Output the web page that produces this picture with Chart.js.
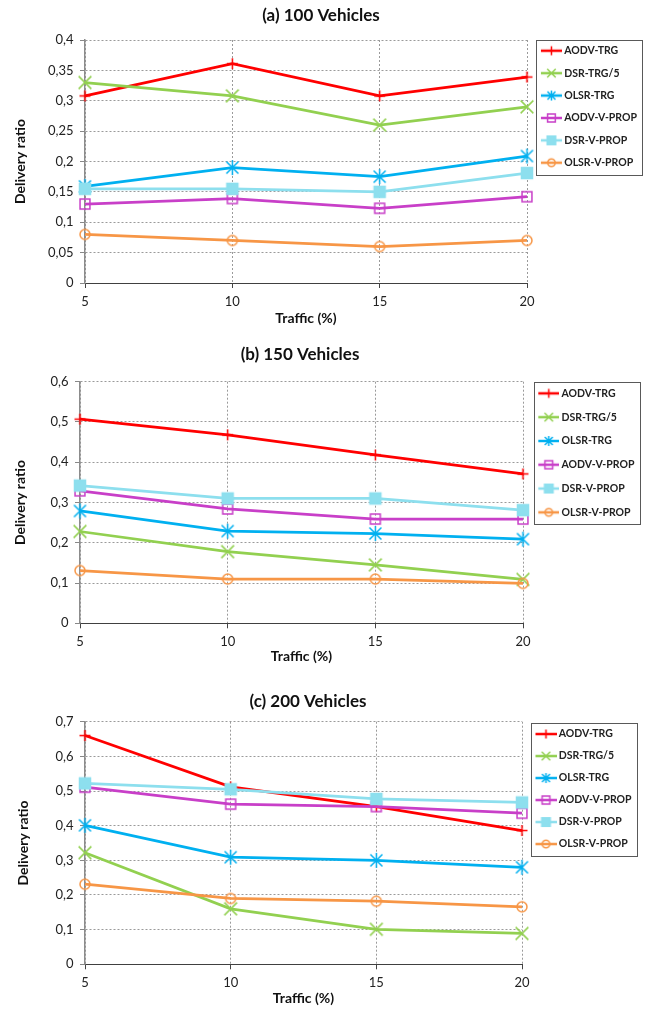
<!DOCTYPE html>
<html>
<head>
<meta charset="utf-8">
<script src="https://cdn.jsdelivr.net/npm/chart.js@4.4.1/dist/chart.umd.min.js"></script>
<style>
  body { margin: 0; background: #fff; }
  .box { position: absolute; left: 0; width: 649px; }
</style>
</head>
<body>
<div class="box" style="top:0;height:330px"><canvas id="chartA"></canvas></div>
<div class="box" style="top:330px;height:340px"><canvas id="chartB"></canvas></div>
<div class="box" style="top:670px;height:339px"><canvas id="chartC"></canvas></div>
<script>
const traffic = ['5', '10', '15', '20'];
const seriesNames = ['AODV-TRG', 'DSR-TRG/5', 'OLSR-TRG', 'AODV-V-PROP', 'DSR-V-PROP', 'OLSR-V-PROP'];

// (a) 100 vehicles
const aodvTrgA = [0.308, 0.361, 0.308, 0.339];
const dsrTrgA = [0.330, 0.308, 0.260, 0.290];
const olsrTrgA = [0.159, 0.190, 0.175, 0.209];
const aodvPropA = [0.130, 0.139, 0.123, 0.142];
const dsrPropA = [0.155, 0.155, 0.150, 0.181];
const olsrPropA = [0.080, 0.070, 0.060, 0.070];
const yTicksA = ['0', '0,05', '0,1', '0,15', '0,2', '0,25', '0,3', '0,35', '0,4'];

// (b) 150 vehicles
const aodvTrgB = [0.507, 0.468, 0.418, 0.371];
const dsrTrgB = [0.228, 0.178, 0.145, 0.109];
const olsrTrgB = [0.279, 0.229, 0.223, 0.209];
const aodvPropB = [0.329, 0.284, 0.259, 0.259];
const dsrPropB = [0.342, 0.310, 0.310, 0.281];
const olsrPropB = [0.131, 0.110, 0.110, 0.099];
const yTicksB = ['0', '0,1', '0,2', '0,3', '0,4', '0,5', '0,6'];

// (c) 200 vehicles
const aodvTrgC = [0.660, 0.512, 0.455, 0.386];
const dsrTrgC = [0.322, 0.160, 0.101, 0.089];
const olsrTrgC = [0.401, 0.309, 0.300, 0.280];
const aodvPropC = [0.511, 0.462, 0.455, 0.436];
const dsrPropC = [0.522, 0.505, 0.477, 0.467];
const olsrPropC = [0.231, 0.190, 0.182, 0.166];
const yTicksC = ['0', '0,1', '0,2', '0,3', '0,4', '0,5', '0,6', '0,7'];

Chart.defaults.font.family = 'Lato, sans-serif';
Chart.defaults.color = '#222';

const seriesStyles = [
  {color: '#ff0000', marker: 'cross', r: 5.5, lr: 4.5, fill: '#ff0000'},
  {color: '#92d050', marker: 'crossRot', r: 9, lr: 6, fill: '#92d050'},
  {color: '#00b0f0', marker: 'asterisk', r: 7.5, lr: 5, fill: '#00b0f0'},
  {color: '#c83fc8', marker: 'rect', r: 7, lr: 5.5, fill: 'rgba(255,255,255,0)'},
  {color: '#8ddfee', marker: 'rect', r: 7.8, lr: 6, fill: '#8ddfee'},
  {color: '#f79646', marker: 'circle', r: 5, lr: 3.8, fill: 'rgba(255,255,255,0)'}
];

function drawMarker(ctx, st, cx, cy, r) {
  ctx.save();
  ctx.strokeStyle = st.color;
  ctx.fillStyle = st.fill;
  ctx.lineWidth = 1.5;
  ctx.beginPath();
  if (st.marker === 'cross') {
    ctx.moveTo(cx - r, cy); ctx.lineTo(cx + r, cy);
    ctx.moveTo(cx, cy - r); ctx.lineTo(cx, cy + r);
  } else if (st.marker === 'crossRot' || st.marker === 'asterisk') {
    const d = r * (st.marker === 'asterisk' ? 0.8 : Math.SQRT1_2);
    ctx.moveTo(cx - d, cy - d); ctx.lineTo(cx + d, cy + d);
    ctx.moveTo(cx + d, cy - d); ctx.lineTo(cx - d, cy + d);
    if (st.marker === 'asterisk') { ctx.moveTo(cx, cy - r); ctx.lineTo(cx, cy + r); }
  } else if (st.marker === 'rect') {
    const h = r * Math.SQRT1_2;
    ctx.rect(cx - h, cy - h, 2 * h, 2 * h);
    ctx.fill();
  } else {
    ctx.arc(cx, cy, r, 0, Math.PI * 2);
    ctx.fill();
  }
  ctx.stroke();
  ctx.restore();
}

// marker images for the points
const pointImages = seriesStyles.map(st => {
  const size = Math.ceil(st.r * 2 + 4);
  const c = document.createElement('canvas');
  c.width = size; c.height = size;
  drawMarker(c.getContext('2d'), st, size / 2, size / 2, st.r);
  return c;
});

// legend icons: short line with marker in the middle
const legendIcons = seriesStyles.map(st => {
  const c = document.createElement('canvas');
  c.width = 26; c.height = 16;
  const g = c.getContext('2d');
  g.strokeStyle = st.color;
  g.lineWidth = 2.5;
  g.beginPath(); g.moveTo(5, 8); g.lineTo(26, 8); g.stroke();
  drawMarker(g, st, 15.5, 8, st.lr);
  return c;
});

const legendFrame = {
  id: 'legendFrame',
  afterDraw(chart) {
    const boxes = chart.legend.legendHitBoxes;
    if (!boxes || !boxes.length) return;
    const first = boxes[0], last = boxes[boxes.length - 1];
    const left = first.left - 2.5;
    const right = Math.max(...boxes.map(b => b.left + b.width)) + 5;
    const top = first.top + first.height / 2 - 11;
    const bottom = last.top + last.height / 2 + 12;
    const c = chart.ctx;
    c.save();
    c.strokeStyle = '#595959';
    c.lineWidth = 1;
    c.strokeRect(Math.round(left) + 0.5, Math.round(top) + 0.5, Math.round(right - left), Math.round(bottom - top));
    c.restore();
  }
};

function buildChart(id, titleText, values, yMax, yStep, yTickLabels, lay) {
  const datasets = values.map((vals, i) => ({
    label: seriesNames[i],
    data: vals,
    borderColor: seriesStyles[i].color,
    backgroundColor: seriesStyles[i].color,
    borderWidth: 2.75,
    pointStyle: pointImages[i],
    pointRadius: seriesStyles[i].r,
    pointHoverRadius: seriesStyles[i].r,
    tension: 0,
    clip: false,
    order: values.length - i
  }));

  const gridX = {color: '#9a9a9a', lineWidth: 1, tickLength: 5, tickColor: '#444', tickWidth: 1, tickBorderDash: []};
  const gridY = {color: '#9a9a9a', lineWidth: 1, tickLength: 5, tickColor: '#888', tickWidth: 1, tickBorderDash: []};

  const chart = new Chart(document.getElementById(id), {
    type: 'line',
    data: {labels: traffic, datasets: datasets},
    options: {
      responsive: true,
      maintainAspectRatio: false,
      animation: false,
      layout: {padding: {left: 0, right: 0, top: 0, bottom: 0}},
      plugins: {
        title: {
          display: true,
          text: titleText,
          color: '#111',
          font: {size: 17, weight: 'bold'},
          padding: {top: lay.titleTop, bottom: lay.titleBottom}
        },
        legend: {
          position: 'right',
          align: 'start',
          title: {display: true, text: ' ', font: {size: 2}, padding: {top: lay.legendTop, bottom: 0}},
          labels: {
            usePointStyle: true,
            pointStyleWidth: 20,
            padding: lay.legendGap,
            color: '#111',
            font: {size: 10.5, weight: 'bold'},
            generateLabels: () => seriesNames.map((name, i) => ({
              text: name,
              pointStyle: legendIcons[i],
              fillStyle: 'rgba(0,0,0,0)',
              strokeStyle: 'rgba(0,0,0,0)',
              lineWidth: 0,
              hidden: false,
              datasetIndex: i
            }))
          }
        },
        tooltip: {enabled: false}
      },
      scales: {
        x: {
          type: 'category',
          offset: false,
          grid: gridX,
          border: {display: true, color: '#404040', width: 1, dash: [2, 2]},
          ticks: {color: '#222', font: {size: 13}, padding: 5.9, maxRotation: 0},
          title: {display: true, text: 'Traffic (%)', color: '#111', font: {size: 14, weight: 'bold'}, padding: {top: 0, bottom: lay.xTitleBottom}},
          afterFit: s => { s.height = lay.xHeight; }
        },
        y: {
          min: 0,
          max: yMax,
          grid: gridY,
          border: {display: true, color: '#8c8c8c', width: 1.5, dash: [2, 2]},
          ticks: {stepSize: yStep, color: '#222', font: {size: 13}, padding: 6.5,
            callback: (v, i) => yTickLabels[i]},
          title: {display: true, text: 'Delivery ratio', color: '#111', font: {size: 14, weight: 'bold'}, padding: {top: 4, bottom: 0}},
          afterFit: s => { s.width = lay.plotLeft - lay.padLeft; }
        }
      }
    },
    plugins: [legendFrame]
  });

  // place plot edges and title centre like the original figure
  const legendRight = lay.plotRight + chart.legend.width;
  lay.padLeft = 2 * lay.titleX - legendRight;
  chart.options.layout.padding = {left: lay.padLeft, right: chart.width - legendRight, top: 0, bottom: 0};
  chart.options.scales.y.title.padding = {top: lay.yTitleX - lay.padLeft - 8.4, bottom: 0};
  chart.update();
  return chart;
}

buildChart('chartA', '(a) 100 Vehicles',
  [aodvTrgA, dsrTrgA, olsrTrgA, aodvPropA, dsrPropA, olsrPropA], 0.4, 0.05, yTicksA,
  {padLeft: 0, plotLeft: 85, plotRight: 527, titleX: 321, yTitleX: 20,
   titleTop: 5.8, titleBottom: 13.8, xHeight: 47, xTitleBottom: 3.6, legendTop: 31.2, legendGap: 11.9});

buildChart('chartB', '(b) 150 Vehicles',
  [aodvTrgB, dsrTrgB, olsrTrgB, aodvPropB, dsrPropB, olsrPropB], 0.6, 0.1, yTicksB,
  {padLeft: 0, plotLeft: 80, plotRight: 523, titleX: 300, yTitleX: 20,
   titleTop: 14.8, titleBottom: 16.5, xHeight: 46.7, xTitleBottom: 5.6, legendTop: 42.4, legendGap: 13.3});

buildChart('chartC', '(c) 200 Vehicles',
  [aodvTrgC, dsrTrgC, olsrTrgC, aodvPropC, dsrPropC, olsrPropC], 0.7, 0.1, yTicksC,
  {padLeft: 0, plotLeft: 85, plotRight: 522, titleX: 308, yTitleX: 23.7,
   titleTop: 21.8, titleBottom: 9.5, xHeight: 44.7, xTitleBottom: 2.6, legendTop: 44.9, legendGap: 11.5});
</script>
</body>
</html>
